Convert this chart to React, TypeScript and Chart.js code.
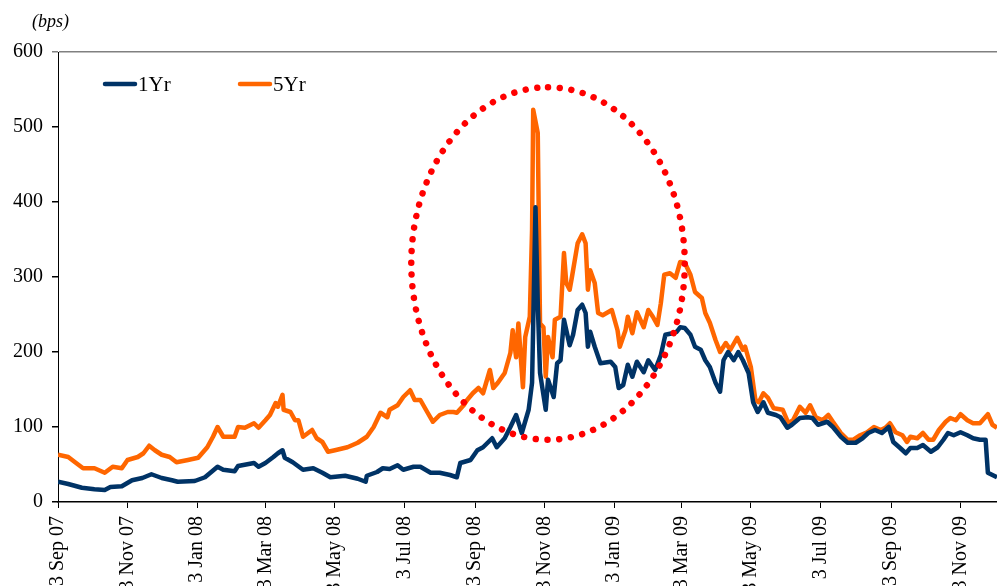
import { useEffect, useRef } from 'react';
import { Chart, registerables } from 'chart.js';

Chart.register(...registerables);

// Day offsets counted from 3 Sep 2007
const tickDays = [0, 61, 122, 182, 243, 304, 366, 427, 488, 547, 608, 669, 731, 792];
const tickLabels = ['3 Sep 07', '3 Nov 07', '3 Jan 08', '3 Mar 08', '3 May 08', '3 Jul 08', '3 Sep 08', '3 Nov 08', '3 Jan 09', '3 Mar 09', '3 May 09', '3 Jul 09', '3 Sep 09', '3 Nov 09'];
const lastDay = 824;

const seriesNames = ['1Yr', '5Yr'];
const seriesColors = ['#003366', '#FF6600'];

const oneYrDays = [0, 9, 21, 32, 41, 46, 56, 65, 74, 82, 91, 100, 105, 120, 129, 140, 145, 155, 158, 172, 176, 182, 189, 193, 197, 199, 206, 215, 224, 232, 239, 252, 263, 270, 271, 280, 285, 291, 298, 303, 312, 318, 327, 335, 344, 350, 353, 362, 368, 373, 381, 385, 392, 397, 402, 407, 413, 416, 419, 421, 423, 428, 430, 435, 438, 441, 444, 449, 452, 456, 460, 463, 465, 467, 471, 476, 485, 489, 492, 496, 500, 504, 508, 514, 518, 524, 529, 533, 539, 543, 546, 550, 555, 559, 564, 568, 572, 577, 581, 584, 588, 593, 597, 601, 606, 610, 614, 616, 619, 623, 630, 634, 640, 644, 651, 658, 662, 667, 675, 680, 687, 693, 700, 706, 711, 717, 723, 729, 733, 739, 744, 748, 754, 759, 766, 772, 777, 781, 786, 792, 798, 803, 809, 814, 816, 820, 824];
const oneYrValues = [27, 24, 19, 17, 16, 20, 21, 29, 32, 37, 32, 29, 27, 28, 33, 47, 43, 41, 48, 52, 47, 52, 60, 65, 69, 59, 53, 43, 45, 39, 33, 35, 31, 27, 35, 40, 45, 44, 49, 43, 47, 47, 39, 39, 36, 33, 52, 56, 69, 73, 85, 73, 85, 100, 116, 92, 123, 159, 393, 265, 172, 123, 163, 140, 185, 189, 243, 209, 223, 256, 263, 252, 207, 227, 207, 185, 187, 180, 152, 156, 183, 167, 187, 173, 189, 176, 196, 223, 225, 227, 233, 232, 223, 207, 203, 189, 180, 159, 147, 189, 200, 189, 200, 189, 172, 133, 120, 125, 133, 119, 116, 113, 99, 103, 112, 113, 112, 103, 107, 100, 87, 79, 79, 85, 92, 96, 92, 100, 80, 72, 65, 72, 72, 76, 67, 73, 83, 92, 89, 93, 89, 85, 83, 83, 39, 36, 33];

const fiveYrDays = [0, 9, 15, 22, 32, 41, 48, 56, 61, 70, 75, 80, 85, 91, 98, 104, 114, 123, 131, 136, 140, 145, 155, 158, 164, 172, 176, 182, 186, 191, 193, 197, 198, 204, 208, 211, 215, 223, 227, 232, 237, 243, 254, 263, 271, 277, 283, 289, 291, 298, 303, 309, 313, 318, 324, 329, 335, 342, 347, 350, 356, 359, 364, 369, 373, 379, 382, 386, 392, 397, 399, 402, 404, 408, 410, 414, 416, 417, 421, 423, 426, 428, 430, 434, 436, 441, 444, 446, 449, 451, 456, 460, 463, 465, 467, 471, 474, 478, 486, 491, 493, 498, 500, 504, 508, 514, 518, 522, 526, 529, 532, 537, 542, 546, 550, 555, 559, 565, 568, 572, 577, 581, 586, 590, 596, 601, 603, 608, 612, 615, 619, 623, 628, 636, 641, 645, 651, 656, 660, 665, 671, 676, 680, 687, 693, 698, 704, 710, 716, 722, 726, 730, 735, 741, 745, 748, 754, 759, 764, 768, 773, 779, 783, 788, 792, 798, 803, 809, 816, 820, 824];
const fiveYrValues = [63, 60, 53, 45, 45, 39, 47, 45, 56, 60, 65, 75, 69, 63, 60, 53, 56, 59, 73, 87, 100, 87, 87, 100, 99, 105, 99, 109, 116, 132, 127, 143, 123, 120, 109, 109, 87, 96, 85, 80, 67, 69, 73, 79, 87, 100, 119, 113, 123, 129, 140, 149, 136, 136, 120, 107, 116, 120, 120, 119, 129, 136, 145, 152, 145, 176, 152, 159, 172, 199, 229, 193, 238, 153, 220, 247, 363, 523, 492, 238, 233, 167, 220, 193, 243, 247, 332, 292, 283, 300, 345, 357, 345, 283, 309, 292, 252, 249, 256, 229, 207, 229, 247, 225, 253, 233, 256, 247, 236, 265, 303, 305, 299, 320, 319, 303, 280, 272, 252, 239, 216, 200, 212, 203, 219, 203, 207, 180, 136, 133, 145, 139, 125, 123, 105, 109, 127, 119, 129, 113, 109, 116, 107, 92, 83, 83, 89, 93, 100, 96, 99, 105, 93, 89, 80, 87, 85, 92, 83, 83, 96, 107, 112, 109, 117, 109, 105, 105, 117, 103, 99];

// Highlight ellipse (data units)
const circleCenterDay = 430;
const circleRadiusDays = 120;
const circleCenterValue = 318;
const circleRadiusValue = 235;

const yMin = 0;
const yMax = 600;
const yStep = 100;
const unitLabel = '(bps)';

const FONT = "'Liberation Serif', 'Times New Roman', serif";

const toPoints = (xs: number[], ys: number[]) => xs.map((d, i) => ({ x: d, y: ys[i] }));

const overlayPlugin = {
  id: 'overlay',
  afterDatasetsDraw(chart: any) {
    const { ctx, scales } = chart;
    const x = scales.x;
    const y = scales.y;
    const cx = x.getPixelForValue(circleCenterDay);
    const rx = x.getPixelForValue(circleCenterDay + circleRadiusDays) - cx;
    const cy = y.getPixelForValue(circleCenterValue);
    const ry = cy - y.getPixelForValue(circleCenterValue + circleRadiusValue);
    ctx.save();
    ctx.beginPath();
    ctx.ellipse(cx, cy, rx, ry, 0, -Math.PI / 2, Math.PI * 1.5);
    ctx.setLineDash([0.01, 11.75]);
    ctx.lineCap = 'round';
    ctx.lineWidth = 6.5;
    ctx.strokeStyle = '#FF0000';
    ctx.stroke();
    ctx.restore();
  },
  afterDraw(chart: any) {
    const { ctx, chartArea } = chart;
    ctx.save();
    ctx.font = `italic 18px ${FONT}`;
    ctx.fillStyle = '#000';
    ctx.textBaseline = 'middle';
    ctx.textAlign = 'left';
    ctx.fillText(unitLabel, 32, 22);
    const legendX = [chartArea.left + 47, chartArea.left + 182];
    const ly = chartArea.top + 32;
    ctx.font = `21px ${FONT}`;
    seriesNames.forEach((name, i) => {
      ctx.beginPath();
      ctx.moveTo(legendX[i], ly);
      ctx.lineTo(legendX[i] + 30, ly);
      ctx.lineWidth = 4.5;
      ctx.lineCap = 'round';
      ctx.strokeStyle = seriesColors[i];
      ctx.stroke();
      ctx.fillStyle = '#000';
      ctx.fillText(name, legendX[i] + 33, ly + 1);
    });
    ctx.restore();
  },
};

export default function App() {
  const canvasRef = useRef<HTMLCanvasElement | null>(null);

  useEffect(() => {
    const canvas = canvasRef.current;
    if (!canvas) return;
    const chart = new Chart(canvas, {
      type: 'line',
      data: {
        datasets: [
          {
            label: seriesNames[0],
            data: toPoints(oneYrDays, oneYrValues),
            borderColor: seriesColors[0],
            backgroundColor: seriesColors[0],
            borderWidth: 4.5,
            pointRadius: 0,
            tension: 0,
            borderJoinStyle: 'round',
          },
          {
            label: seriesNames[1],
            data: toPoints(fiveYrDays, fiveYrValues),
            borderColor: seriesColors[1],
            backgroundColor: seriesColors[1],
            borderWidth: 4.5,
            pointRadius: 0,
            tension: 0,
            borderJoinStyle: 'round',
          },
        ],
      },
      options: {
        responsive: false,
        animation: false,
        devicePixelRatio: 1,
        layout: { padding: { top: 52, left: 0, right: 0, bottom: 0 } },
        plugins: {
          legend: { display: false },
          tooltip: { enabled: false },
        },
        scales: {
          x: {
            type: 'linear',
            min: 0,
            max: lastDay,
            afterFit: (scale: any) => {
              scale.height = 84;
            },
            afterBuildTicks: (scale: any) => {
              scale.ticks = tickDays.map((v) => ({ value: v }));
            },
            ticks: {
              autoSkip: false,
              minRotation: 90,
              maxRotation: 90,
              padding: 8,
              color: '#000',
              font: { family: FONT, size: 20 },
              callback: (value: any) => {
                const idx = tickDays.indexOf(Number(value));
                return idx >= 0 ? tickLabels[idx] : '';
              },
            },
            grid: {
              display: true,
              drawOnChartArea: false,
              drawTicks: true,
              tickLength: 6,
              tickColor: '#000',
              tickWidth: 1,
            },
            border: { display: true, color: '#000', width: 1.5 },
          },
          y: {
            type: 'linear',
            min: yMin,
            max: yMax,
            afterFit: (scale: any) => {
              scale.width = 58;
            },
            ticks: {
              stepSize: yStep,
              padding: 9,
              color: '#000',
              font: { family: FONT, size: 20 },
            },
            grid: {
              display: true,
              drawOnChartArea: true,
              drawTicks: true,
              tickLength: 6,
              color: (c: any) => (c.tick && c.tick.value === yMax ? '#808080' : 'rgba(0,0,0,0)'),
              tickColor: (c: any) => (c.tick && c.tick.value === yMax ? '#808080' : '#000'),
              lineWidth: 1.5,
            },
            border: { display: true, color: '#000', width: 1 },
          },
        },
      },
      plugins: [overlayPlugin],
    } as any);
    return () => chart.destroy();
  }, []);

  return (
    <div style={{ position: 'fixed', left: 0, top: 0, width: 997, height: 586, overflow: 'hidden', background: '#fff' }}>
      <canvas ref={canvasRef} width={997} height={586} style={{ display: 'block' }} />
    </div>
  );
}
